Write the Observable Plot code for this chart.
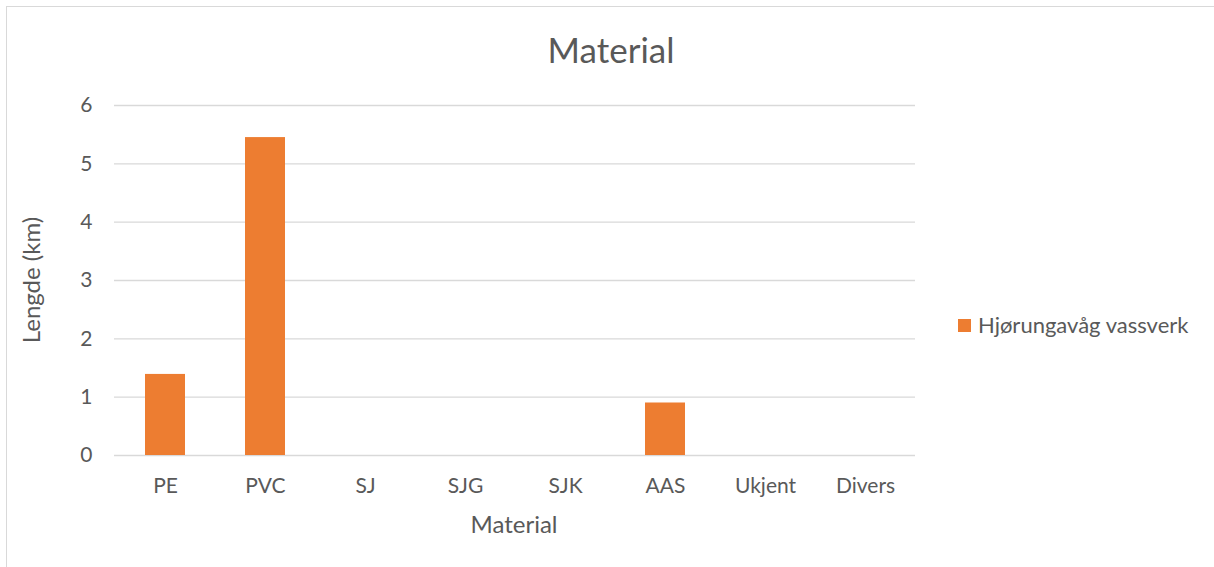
<!DOCTYPE html>
<html>
<head>
<meta charset="utf-8">
<script src="https://cdn.jsdelivr.net/npm/d3@7"></script>
<script src="https://cdn.jsdelivr.net/npm/@observablehq/plot@0.6"></script>
<style>
  html, body { margin: 0; padding: 0; background: #fff; }
  #wrap { position: relative; width: 1214px; height: 567px; overflow: hidden; font-family: Lato, "Open Sans", sans-serif; color: #595959; }
  #frame { position: absolute; left: 6px; top: 6px; width: 1260px; height: 620px; border: 1px solid #d9d9d9; box-sizing: border-box; }
  #chart { position: absolute; left: 0; top: 0; }
  .abs { position: absolute; white-space: nowrap; line-height: 1; }
  #title { left: 611px; top: 32px; transform: translateX(-50%); font-size: 35px; }
  #xtitle { left: 514px; top: 512px; transform: translateX(-50%); font-size: 24px; }
  #ytitle { left: 31px; top: 280px; transform: translate(-50%, -50%) rotate(-90deg); font-size: 24px; }
  #legend { left: 958px; top: 314px; font-size: 22px; display: flex; align-items: center; }
  #legend .sw { width: 13px; height: 13px; background: #ed7d31; margin-right: 7px; }
</style>
</head>
<body>
<div id="wrap">
  <div id="frame"></div>
  <div id="chart"></div>
  <div class="abs" id="title">Material</div>
  <div class="abs" id="xtitle">Material</div>
  <div class="abs" id="ytitle">Lengde (km)</div>
  <div class="abs" id="legend"><span class="sw"></span><span id="legtext"></span></div>
</div>
<script>
const categories = ["PE", "PVC", "SJ", "SJG", "SJK", "AAS", "Ukjent", "Divers"];
const values = [1.39, 5.45, 0, 0, 0, 0.90, 0, 0];
const yTicks = [0, 1, 2, 3, 4, 5, 6];
const seriesName = "Hjørungavåg vassverk";

document.getElementById("legtext").textContent = seriesName;

const data = categories.map((c, i) => ({ material: c, value: values[i] }));

const chart = Plot.plot({
  width: 1214,
  height: 567,
  marginLeft: 114,
  marginRight: 299,
  marginTop: 105,
  marginBottom: 112,
  style: { fontFamily: "Lato, 'Open Sans', sans-serif", background: "transparent", color: "#595959" },
  x: { domain: categories, paddingInner: 0.6, paddingOuter: 0.3, label: null },
  y: { domain: [0, 6], label: null },
  marks: [
    Plot.gridY(yTicks, { stroke: "#d9d9d9", strokeOpacity: 1, strokeWidth: 1.3 }),
    Plot.barY(data.filter(d => d.value > 0), { x: "material", y: "value", fill: "#ed7d31" }),
    Plot.axisY(yTicks, { tickSize: 0, tickPadding: 22, fontSize: 21, fill: "#595959", label: null, tickFormat: d => String(d) }),
    Plot.axisX({ tickSize: 0, tickPadding: 23, fontSize: 21, fill: "#595959", label: null })
  ]
});
document.getElementById("chart").appendChild(chart);
</script>
</body>
</html>
